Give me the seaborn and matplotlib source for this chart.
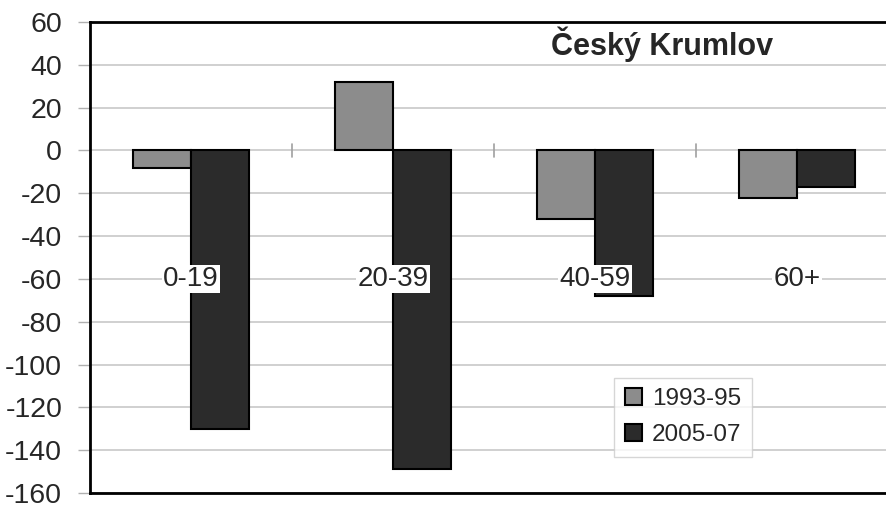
import matplotlib
matplotlib.use("Agg")
import matplotlib.pyplot as plt
import seaborn as sns
import pandas as pd
import numpy as np
from matplotlib.patches import Patch

categories = ["0-19", "20-39", "40-59", "60+"]
series_names = ["1993-95", "2005-07"]
values_1993 = [-8, 32, -32, -22]
values_2005 = [-130, -149, -68, -17]
y_ticks = list(range(-160, 61, 20))
title = "Český Krumlov"

df = pd.DataFrame({
    "category": categories * 2,
    "period": [series_names[0]] * 4 + [series_names[1]] * 4,
    "value": values_1993 + values_2005,
})

sns.set_theme(style="white")
plt.rcParams["font.family"] = ["Liberation Sans", "DejaVu Sans"]
plt.rcParams["axes.unicode_minus"] = False

fig = plt.figure(figsize=(8.87, 5.05), dpi=100)
ax = fig.add_axes([90 / 887, 1 - 493 / 505, 808 / 887, 471 / 505])

colors = ["#8c8c8c", "#2b2b2b"]
sns.barplot(data=df, x="category", y="value", hue="period", order=categories,
            hue_order=series_names, palette=colors, width=0.574, gap=0,
            edgecolor="black", linewidth=1.5, saturation=1, ax=ax, legend=False, zorder=3)

ax.set_xlim(-0.5, len(categories) - 0.5)
ax.set_ylim(-160, 60)
ax.set_yticks(y_ticks)
ax.set_yticklabels([str(t) for t in y_ticks], fontsize=20.5)
ax.tick_params(axis="y", direction="out", length=9, width=1, color="#b0b0b0", pad=11, left=True)
ax.set_xticks([])
ax.set_xlabel("")
ax.set_ylabel("")
ax.yaxis.grid(True, color="#c8c8c8", linewidth=1.2, zorder=0)
ax.set_axisbelow(True)
for s in ["left", "bottom", "top"]:
    ax.spines[s].set_color("black")
    ax.spines[s].set_linewidth(2)
ax.spines["right"].set_visible(False)

# small category-boundary ticks on the zero line
for i in range(1, len(categories)):
    ax.plot([i - 0.5, i - 0.5], [-3, 3], color="#a0a0a0", lw=1.2, zorder=1)

# category labels inside the plot
for i, c in enumerate(categories):
    ax.text(i, -60, c, ha="center", va="center", fontsize=20, zorder=5,
            bbox=dict(facecolor="white", edgecolor="none", pad=1))

ax.text(0.708, 0.953, title, transform=ax.transAxes, ha="center", va="center",
        fontsize=22, fontweight="bold")

handles = [Patch(facecolor=colors[k], edgecolor="black", linewidth=1.5) for k in range(2)]
leg = ax.legend(handles, series_names, loc="center", bbox_to_anchor=(0.734, 0.161),
                fontsize=17.5, frameon=True, fancybox=False, handlelength=0.7,
                handleheight=0.7, handletextpad=0.4, labelspacing=0.55, borderpad=0.45)
leg.get_frame().set_edgecolor("#cccccc")
leg.get_frame().set_linewidth(1)
leg.set_zorder(6)

fig.savefig("out.png", dpi=100)
